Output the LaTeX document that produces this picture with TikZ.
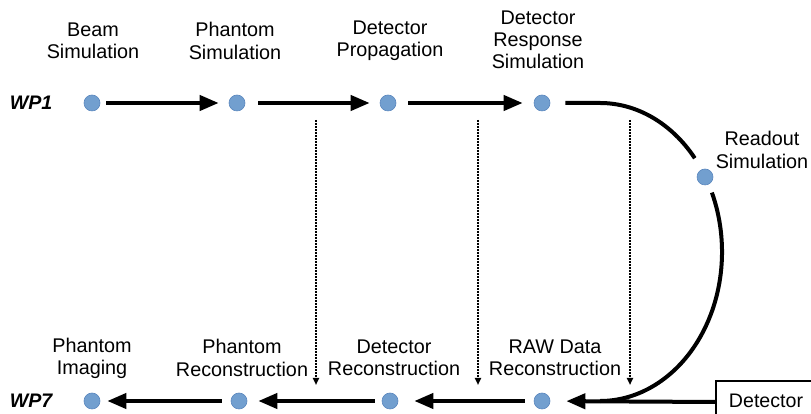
\documentclass[tikz,border=0pt]{standalone}
\usepackage{fontspec}
\setmainfont{Liberation Sans}
\usetikzlibrary{arrows.meta}
\definecolor{dotblue}{HTML}{729FCF}
\definecolor{dotedge}{HTML}{5B87BE}
\tikzset{
  stage/.style={circle,fill=dotblue,draw=dotedge,line width=0.6pt,minimum size=16pt,inner sep=0pt},
  caption/.style={align=center,font=\fontsize{19.8}{22.2}\selectfont,inner sep=0pt},
  wplabel/.style={font=\fontsize{19.6}{22}\selectfont\bfseries\itshape,inner sep=0pt},
  flow/.style={line width=4pt,-{Triangle[length=19pt,width=15pt]},shorten <=8pt,shorten >=10pt},
  loopline/.style={line width=4pt},
  handoff/.style={line width=2pt,dash pattern=on 2pt off 1pt,-{Triangle[length=7pt,width=6pt]}},
  boxed/.style={draw,line width=1.8pt,minimum width=100pt,minimum height=42pt,inner sep=0pt,font=\fontsize{19.6}{22}\selectfont}
}
\begin{document}
\begin{tikzpicture}[x=1pt,y=1pt]
\useasboundingbox (0,0) rectangle (811,414);

% simulation chain (WP1)
\node[wplabel] (wp1) at (31,311) {WP1};
\node[stage] (s1) at (92,311) {};
\node[stage] (s2) at (237,311) {};
\node[stage] (s3) at (388,311) {};
\node[stage] (s4) at (542,311) {};
\node[stage] (s5) at (705,237) {};

\node[caption] at (93,373) {Beam\\Simulation};
\node[caption] at (235,373) {Phantom\\Simulation};
\node[caption] at (390,373) {Detector\\Propagation};
\node[caption] at (538,374) {Detector\\Response\\Simulation};
\node[caption] at (762,264) {Readout\\Simulation};

% reconstruction chain (WP7)
\node[wplabel] (wp7) at (31,13) {WP7};
\node[stage] (r1) at (92,13) {};
\node[stage] (r2) at (239,13) {};
\node[stage] (r3) at (390,13) {};
\node[stage] (r4) at (542,13) {};

\node[caption] at (92,56) {Phantom\\Imaging};
\node[caption] at (242,56) {Phantom\\Reconstruction};
\node[caption] at (394,56) {Detector\\Reconstruction};
\node[caption] at (555,56) {RAW Data\\Reconstruction};

\node[boxed] (det) at (766,12) {\raisebox{3pt}{Detector}};

% forward arrows along WP1
\draw[flow,shorten <=6pt] (s1) -- (s2);
\draw[flow,shorten <=13pt] (s2) -- (s3);
\draw[flow,shorten <=12pt,shorten >=11pt] (s3) -- (s4);

% loop through the readout stage
\draw[loopline] ([xshift=15pt]s4.east) -- (600,311)
  arc[start angle=90,end angle=39,x radius=122,y radius=149];
\draw[loopline] (711.9,221.4)
  arc[start angle=23.5,end angle=-90,x radius=122,y radius=149];

% backward arrows along WP7
\draw[flow,shorten <=0pt,shorten >=16pt] (det.west) -- (r4);
\draw[flow,shorten <=9pt,shorten >=16pt] (r4) -- (r3);
\draw[flow,shorten <=7pt,shorten >=11pt] (r3) -- (r2);
\draw[flow,shorten <=9pt,shorten >=7pt] (r2) -- (r1);

% hand-off links between the two chains
\coordinate (h1a) at (316,294); \coordinate (h1b) at (316,29);
\coordinate (h2a) at (478,294); \coordinate (h2b) at (478,29);
\coordinate (h3a) at (630,294); \coordinate (h3b) at (630,29);
\draw[handoff] (h1a) -- (h1b);
\draw[handoff] (h2a) -- (h2b);
\draw[handoff] (h3a) -- (h3b);
\end{tikzpicture}
\end{document}
